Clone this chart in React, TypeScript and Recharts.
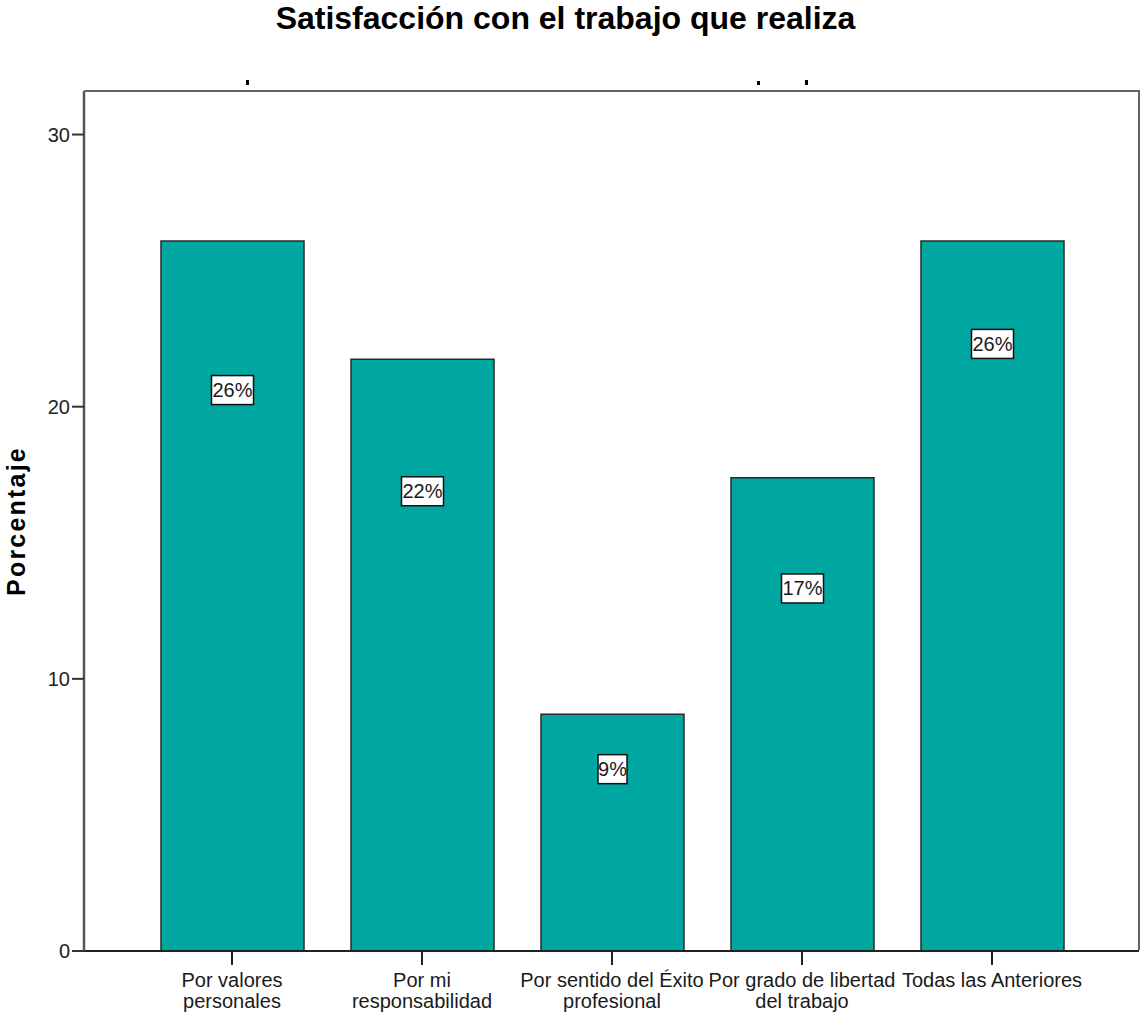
import React from 'react';
import { BarChart, Bar, XAxis, YAxis, LabelList } from 'recharts';

// Satisfacción con el trabajo que realiza (n = 23)
const categories = [
  'Por valores personales',
  'Por mi responsabilidad',
  'Por sentido del Éxito profesional',
  'Por grado de libertad del trabajo',
  'Todas las Anteriores',
];
// two-line tick text for each category
const tickLines: string[][] = [
  ['Por valores', 'personales'],
  ['Por mi', 'responsabilidad'],
  ['Por sentido del Éxito', 'profesional'],
  ['Por grado de libertad', 'del trabajo'],
  ['Todas las Anteriores'],
];
const percentages = [26.09, 21.74, 8.7, 17.39, 26.09];
const yTicks = [0, 10, 20, 30];

const data = categories.map((name, i) => ({ name, pct: percentages[i] }));

// Layout
const WIDTH = 1141;
const HEIGHT = 1017;
const PLOT = { left: 84, top: 91, right: 1139, bottom: 951 };
const BAR_FILL = '#00a6a0';
const FONT = '"Liberation Sans", Arial, sans-serif';
// how far down each bar its % box sits (fraction of bar height)
const LABEL_DEPTH = [0.21, 0.223, 0.232, 0.234, 0.145];

const CategoryTick = (props: any) => {
  const { x, y, index } = props;
  const lines = tickLines[index] || [props.payload.value];
  return (
    <text x={x} y={y} textAnchor="middle" fontFamily={FONT} fontSize={20} fill="#1a1a1a">
      {lines.map((l, i) => (
        <tspan key={i} x={x} dy={i === 0 ? 20 : 21}>
          {l}
        </tspan>
      ))}
    </text>
  );
};

const PercentBox = (props: any) => {
  const { x, y, width, height, value, index } = props;
  const text = `${Math.round(value)}%`;
  const cx = x + width / 2;
  const cy = y + height * LABEL_DEPTH[index];
  const w = text.length * 13 + 3;
  return (
    <g>
      <rect x={cx - w / 2} y={cy - 14.5} width={w} height={29} fill="#fff" stroke="#111" strokeWidth={1.5} />
      <text x={cx} y={cy + 7} textAnchor="middle" fontFamily={FONT} fontSize={20} fill="#1a1a1a">
        {text}
      </text>
    </g>
  );
};

const AxisTitle = (props: any) => {
  const vb = props.viewBox || { x: 0, y: 91, width: 84, height: 860 };
  const cx = vb.x + 25;
  const cy = vb.y + vb.height / 2;
  return (
    <text
      x={cx}
      y={cy}
      transform={`rotate(-90, ${cx}, ${cy})`}
      textAnchor="middle"
      fontFamily={FONT}
      fontSize={25}
      fontWeight="bold"
      letterSpacing={2.2}
      fill="#000"
    >
      Porcentaje
    </text>
  );
};

// clipped strokes of a subtitle line peeking above the frame
const stubs = [
  { left: 246, top: 80, h: 5 },
  { left: 757, top: 81, h: 4 },
  { left: 805, top: 80, h: 5 },
];

export default function App() {
  return (
    <div style={{ position: 'relative', width: WIDTH, height: HEIGHT, background: '#fff' }}>
      <style>{'body{margin:0}'}</style>
      <div
        style={{
          position: 'absolute',
          top: 0,
          left: 0,
          width: WIDTH - 10,
          textAlign: 'center',
          fontFamily: FONT,
          fontWeight: 'bold',
          fontSize: 32,
          color: '#000',
        }}
      >
        Satisfacción con el trabajo que realiza
      </div>
      {stubs.map((s, i) => (
        <div
          key={i}
          style={{ position: 'absolute', left: s.left, top: s.top, width: 3, height: s.h, background: '#000' }}
        />
      ))}
      <BarChart
        width={WIDTH}
        height={HEIGHT}
        data={data}
        margin={{ top: PLOT.top, right: WIDTH - PLOT.right, left: 0, bottom: 0 }}
        barCategoryGap={0}
      >
        <XAxis
          dataKey="name"
          height={HEIGHT - PLOT.bottom}
          padding={{ left: 53, right: 52 }}
          interval={0}
          tickSize={14}
          tickLine={{ stroke: '#222', strokeWidth: 2 }}
          axisLine={{ stroke: '#222', strokeWidth: 2 }}
          tick={<CategoryTick />}
        />
        <YAxis
          width={PLOT.left}
          domain={[0, 31.6]}
          ticks={yTicks}
          allowDataOverflow
          tickSize={12}
          tickMargin={2}
          tickLine={{ stroke: '#333', strokeWidth: 2 }}
          axisLine={{ stroke: '#555', strokeWidth: 2.5 }}
          tick={{ fontFamily: FONT, fontSize: 20, fill: '#222' }}
          label={<AxisTitle />}
        />
        <Bar
          dataKey="pct"
          fill={BAR_FILL}
          stroke="#2a2a2a"
          strokeWidth={1.5}
          barSize={143}
          isAnimationActive={false}
        >
          <LabelList dataKey="pct" content={<PercentBox />} />
        </Bar>
      </BarChart>
      {/* top and right edges of the plot frame */}
      <div
        style={{
          position: 'absolute',
          left: PLOT.left,
          top: PLOT.top - 1,
          width: PLOT.right - PLOT.left + 1,
          height: PLOT.bottom - PLOT.top,
          borderTop: '2.5px solid #666',
          borderRight: '2.5px solid #666',
          boxSizing: 'border-box',
          pointerEvents: 'none',
        }}
      />
    </div>
  );
}
